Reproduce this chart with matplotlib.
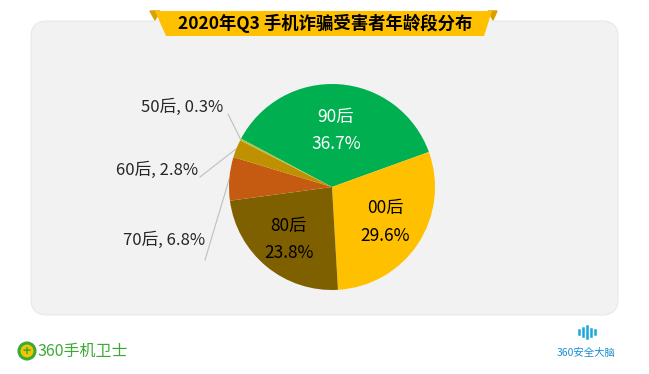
import numpy as np
import matplotlib.pyplot as plt
from matplotlib.patches import FancyBboxPatch, Polygon, Circle

plt.rcParams['font.family'] = ['Noto Sans CJK SC', 'DejaVu Sans']

# 数据
labels = ['90后', '00后', '80后', '70后', '60后', '50后']
values = [36.7, 29.6, 23.8, 6.8, 2.8, 0.3]
colors = ['#00B050', '#FFC000', '#7F6000', '#C55A11', '#BF9000', '#A9C23F']
inner_colors = ['white', 'black', 'black']
title = '2020年Q3 手机诈骗受害者年龄段分布'

W, H = 649, 374
fig = plt.figure(figsize=(W / 100, H / 100), dpi=100)
fig.patch.set_facecolor('white')

# 背景用的像素坐标轴
bg = fig.add_axes([0, 0, 1, 1])
bg.set_xlim(0, W)
bg.set_ylim(H, 0)
bg.axis('off')

panel = FancyBboxPatch((31, 21), 587, 294, boxstyle='round,pad=0,rounding_size=16',
                       facecolor='#F2F2F2', edgecolor='#E8E8E8', lw=0.8)
bg.add_patch(panel)

# 标题横幅
bg.add_patch(Polygon([(150, 11), (155, 20), (160, 11)], closed=True, color='#D9A000'))
bg.add_patch(Polygon([(488, 11), (493, 20), (497, 11)], closed=True, color='#D9A000'))
bg.add_patch(Polygon([(155, 11), (492, 11), (484, 36), (166, 36)], closed=True,
                     facecolor='#FFC000', edgecolor='none'))
bg.text(325, 23.5, title, ha='center', va='center', fontsize=12.5, fontweight='bold',
        color='black')

# 左下角 logo
bg.add_patch(Circle((27, 351), 8, facecolor='#F5C400', edgecolor='#3BAA35', lw=2.2))
bg.text(27, 351.5, '+', ha='center', va='center', fontsize=10, fontweight='bold', color='#3BAA35')
bg.text(38, 351, '360手机卫士', ha='left', va='center', fontsize=11.5, color='#3BAA35')

# 右下角 logo
for hx, hh in [(579, 4), (583, 8), (587, 12), (591, 7), (595, 4)]:
    bg.plot([hx, hx], [330 - hh / 2 + 2, 330 + hh / 2 + 2], color='#1AA7D9', lw=1.8)
bg.text(586, 353, '360安全大脑', ha='center', va='center', fontsize=7.5, color='#1A8FD0')

# 饼图
cx, cy, r = 332, 187, 103
ax = fig.add_axes([(cx - r) / W, (H - cy - r) / H, 2 * r / W, 2 * r / H])
wedges, _ = ax.pie(values, colors=colors, startangle=152, counterclock=False,
                   radius=1, wedgeprops=dict(linewidth=0))
ax.set_xlim(-1, 1)
ax.set_ylim(-1, 1)
ax.axis('off')

# 饼内标签
dists = [0.55, 0.62, 0.66]
for i in range(3):
    w = wedges[i]
    ang = np.deg2rad((w.theta1 + w.theta2) / 2)
    d = dists[i]
    ax.text(d * np.cos(ang), d * np.sin(ang), f'{labels[i]}\n{values[i]}%',
            ha='center', va='center', fontsize=12.5, color=inner_colors[i], linespacing=1.7)

# 饼外标签 + 引线 (像素坐标)
outer = {3: ((205, 260), (205, 240)), 4: ((200, 177), (198, 170)), 5: ((228, 114), (223, 107))}
for i, ((lx, ly), (tx, ty)) in outer.items():
    w = wedges[i]
    ang = np.deg2rad((w.theta1 + w.theta2) / 2)
    ex, ey = cx + r * np.cos(ang), cy - r * np.sin(ang)
    bg.plot([ex, lx], [ey, ly], color='#BFBFBF', lw=0.8)
    bg.text(tx, ty, f'{labels[i]}, {values[i]}%', ha='right', va='center', fontsize=12,
            color='#262626')

fig.savefig('out.png', dpi=100)
